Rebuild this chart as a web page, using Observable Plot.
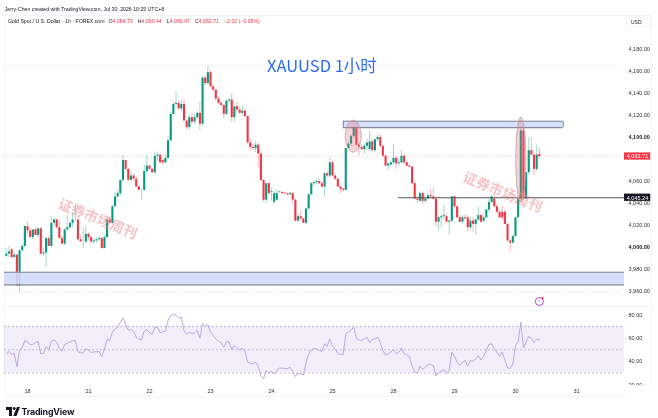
<!DOCTYPE html>
<html>
<head>
<meta charset="utf-8">
<script src="https://cdn.jsdelivr.net/npm/d3@7"></script>
<script src="https://cdn.jsdelivr.net/npm/@observablehq/plot@0.6"></script>
<style>
html,body{margin:0;padding:0;background:#fff;}
#wrap{position:relative;width:658px;height:418px;overflow:hidden;font-family:"Liberation Sans",sans-serif;color:#131722;filter:blur(0.3px);}
#wrap svg{position:absolute;left:0;}
.abs{position:absolute;white-space:nowrap;}
.r{color:#f23645;}
.v{display:inline-block;width:25.3px;}
</style>
</head>
<body>
<div id="wrap">
  <div class="abs" style="left:4px;top:14.5px;width:648px;height:382px;border:1px solid #f3f4f8;box-sizing:border-box;"></div>
  <div class="abs" style="left:4px;top:306px;width:648px;height:1px;background:#f0f1f6;"></div>
  <div class="abs" style="left:4.7px;top:6px;font-size:5.2px;">Jerry-Chen created with TradingView.com, Jul 30, 2026 10:25 UTC+8</div>
  <div class="abs" style="left:8px;top:18px;font-size:5.2px;"><span style="display:inline-block;width:99px;">Gold Spot / U.S. Dollar · 1h · FOREX.com</span> O<span class="r v">4,084.73</span>H<span class="r v">4,090.44</span>L<span class="r v">4,080.07</span>C<span class="r v">4,082.71</span><span class="r">−2.02 (−0.05%)</span></div>
  <div class="abs" style="left:626px;top:17px;width:25px;height:10px;border:1px solid #f3f4f8;box-sizing:border-box;border-radius:2px;font-size:5px;line-height:8px;padding-left:4px;">USD</div>
  <svg width="14" height="9" style="top:407px;left:6px;" viewBox="0 0 14 9"><path d="M0 0H6V9H3V3H0Z" fill="#131722"/><circle cx="8.2" cy="1.6" r="1.5" fill="#131722"/><path d="M11 0H14L10.5 9H7.2Z" fill="#131722"/></svg>
  <div class="abs" style="left:21.5px;top:406px;font-size:8.9px;font-weight:700;font-family:Inter,sans-serif;letter-spacing:-0.2px;">TradingView</div>
</div>
<script>
const opens = [
3992,3994,3998,3991,3993,3965,3997,4001,4019,4015,
4009,4016,4011,4017,3994,3995,4008,4001,4022,4025,
4018,4008,4003,4016,4018,4022,4025,4025,4007,4005,
4005,4012,4009,4005,4006,4007,4008,3999,4009,4025,
4022,4037,4046,4049,4061,4079,4071,4061,4065,4062,
4055,4052,4052,4069,4074,4071,4068,4083,4084,4079,
4077,4081,4097,4121,4130,4131,4126,4130,4115,4109,
4118,4114,4118,4122,4112,4154,4149,4159,4146,4143,
4135,4131,4129,4121,4133,4134,4118,4128,4125,4122,
4124,4119,4095,4091,4090,4093,4085,4061,4043,4058,
4050,4041,4043,4050,4050,4049.5,4049,4048,4049,4043,
4024,4028,4026,4022,4035,4048,4058,4059,4060,4058,
4055,4067,4065,4077,4065,4062,4055,4053,4052,4090,
4094,4101,4109,4093,4091,4089,4092,4089,4096,4088,
4098,4100,4092,4083,4074,4075,4077,4081,4076,4077,
4083,4077,4074,4073,4058,4044,4042,4049,4042,4044,
4047,4046,4044,4023,4027,4028,4028,4023,4024,4046,
4037,4027,4023,4027,4027,4018,4024,4021,4025,4029,
4024,4027,4034,4041,4044,4037,4032,4032,4032,4021,
4006,4004,4010,4027,4044,4106,4044,4068,4088,4084,
4071,4084.73];
const closes = [
3994,3996,3991,3993,3965,3997,4001,4019,4015,4009,
4016,4011,4017,3994,3995,4008,4001,4022,4025,4018,
4008,4003,4016,4018,4022,4025,4025,4007,4005,4005,
4012,4009,4005,4006,4007,4008,3999,4009,4025,4022,
4037,4046,4049,4061,4079,4071,4061,4065,4062,4055,
4052,4052,4069,4074,4071,4068,4083,4084,4077,4077,
4081,4097,4121,4130,4131,4126,4130,4115,4109,4118,
4114,4118,4122,4112,4154,4149,4159,4146,4143,4135,
4131,4129,4121,4133,4134,4118,4128,4125,4122,4124,
4119,4095,4091,4090,4093,4085,4061,4043,4058,4049,
4050.5,4049,4049,4050.5,4049,4049,4048,4049,4043,4024,
4028,4026,4022,4035,4048,4058,4059,4060,4058,4055,
4067,4065,4077,4065,4062,4055,4053,4052,4090,4094,
4101,4109,4093,4091,4089,4092,4095,4096,4088,4098,
4100,4092,4083,4074,4076,4077,4081,4076,4077,4083,
4077,4074,4073,4058,4044,4043,4049,4042,4044,4047,
4046,4044,4023,4027,4028,4029,4023,4024,4046,4037,
4027,4023,4027,4026,4018,4024,4021,4025,4029,4023,
4027,4034,4041,4046,4037,4032,4027,4027,4021,4006,
4004,4010,4027,4044,4106,4044,4068,4088,4084,4071,
4084,4082.71];
const highs = [
3999,4001,3999,3995,3994,3998,4003,4020,4023,4017,
4016,4018,4017,4018,3999,4009,4011,4028,4027,4026,
4025,4010,4017,4029,4023,4032,4040,4026,4011,4018,
4019,4013,4011,4008,4009,4010,4009,4011,4026,4027,
4038,4050,4052,4062,4084,4079,4072,4069,4067,4064,
4056,4053,4075,4084,4075,4072,4087,4086,4085,4081,
4085,4101,4123,4132,4142,4133,4134,4135,4116,4120,
4122,4121,4124,4132,4155,4156,4165,4161,4148,4144,
4137,4133,4130,4134,4135,4140,4128,4132,4128,4129,
4126,4120,4099,4094,4096,4095,4086,4062,4058,4059,
4054,4051,4052,4051,4051,4050,4049,4050,4050,4044,
4031,4033,4027,4036,4049,4059,4060,4062,4062,4060,
4068,4069,4081,4079,4066,4063,4056,4054,4090,4096,
4102,4113,4114,4095,4093,4094,4098,4106,4098,4098,
4102,4103,4093,4084,4077,4079,4093,4083,4080,4088,
4085,4078,4075,4074,4059,4047,4050,4051,4046,4048,
4053,4054,4045,4029,4030,4038,4030,4025,4046,4047,
4038,4029,4029,4030,4029,4027,4027,4026,4037,4031,
4030,4035,4044,4048,4047,4039,4034,4037,4034,4022,
4007,4011,4028,4045,4110,4110,4068,4100,4100,4086,
4093,4090.44];
const lows = [
3991,3991,3990,3990,3965,3959,3996,4000,4012,4009,
4007,4011,4009,3993,3992,3982,4001,4000,4019,4017,
4008,4003,4002,4015,4016,4018,4023,4006,4005,3999,
4003,4006,4003,4003,4004,4005,3999,3999,4008,4022,
4021,4037,4045,4047,4059,4069,4060,4060,4062,4055,
4051,4043,4051,4067,4070,4067,4066,4078,4076,4075,
4076,4080,4096,4120,4128,4125,4123,4115,4107,4107,
4112,4112,4116,4106,4110,4147,4148,4146,4142,4133,
4130,4128,4117,4120,4131,4114,4114,4123,4121,4119,
4118,4094,4088,4088,4086,4073,4060,4041,4040,4048,
4042,4039,4042,4049,4048,4048,4047,4047,4040,4023,
4023,4025,4022,4021,4034,4046,4055,4057,4057,4054,
4046,4063,4063,4064,4061,4054,4049,4050,4051,4089,
4092,4099,4092,4083,4088,4085,4088,4087,4087,4086,
4096,4090,4082,4073,4070,4073,4075,4071,4073,4076,
4075,4073,4072,4057,4044,4040,4041,4039,4041,4043,
4045,4043,4019,4015,4018,4025,4022,4011,4023,4036,
4026,4022,4021,4025,4014,4016,4014,4011,4023,4022,
4022,4026,4032,4040,4036,4032,4026,4025,4021,4005,
3996,4003,4009,4026,4042,4043,4043,4066,4083,4065,
4069,4080.07];
const rsiValues = [
46.6,48.6,45.7,47.1,35.7,50,51.7,58,56.6,54.3,
54.6,56,57.1,46.6,47.1,52.9,50,57.4,58.3,56.6,
51.4,48.9,54.6,55.7,56.6,57.7,58,48.6,47.4,47.4,
50.9,49.7,47.4,48.3,48.3,48.6,44.3,50.9,58.9,58,
65.1,68,69.4,73.7,77.1,72.3,66.6,67.4,65.7,60.9,
59.1,58.6,66,67.4,64.6,63.4,69.4,69.4,64.6,65.4,
66,75.1,79.4,80.3,79.7,77.1,78,66.6,63.1,65.4,
63.7,64.6,66.6,60,72.3,70,71.7,65.1,62.3,59.4,
57.4,56,52.3,56.9,56.9,50,53.7,51.7,50,51.4,
48.6,39.4,38.6,38,39.4,35.7,28,25.1,32.3,30,
31.7,29.4,32.3,34.3,34.3,34,33.7,35.1,31.4,27.1,
30,29.4,28.3,38.6,46.6,50,50.9,50.9,49.4,48.6,
55.1,53.1,59.4,52.9,50.6,46.6,46,45.7,63.7,65.1,
67.1,69.4,60,58.3,58,59.4,60.6,56.3,58.9,59.4,
60.9,56,49.4,45.4,46.6,48,50.3,46.6,48,51.7,
46.6,45.7,44.3,36.6,30.9,30,36,33.1,35.1,37.7,
37.1,36.6,27.7,30,31.7,32.9,30,32.3,48,44.3,
39.4,36.6,39.4,40.9,36,40.9,40,42.3,44.9,41.4,
44.3,49.4,54.6,55.1,50.9,48,44.3,48,41.4,34.6,
34,38,53.7,56.6,73.7,51.7,56.6,61.4,60,56,
58.9,58.6];

const dayTicks = [8,31,54,77,100,123,146,169,192,215];
const dayLabels = ["18","21","22","23","24","25","28","29","30","31"];
const priceTicks = [3960,3980,4020,4040,4060,4120,4140,4160,4180];
const boldPriceTicks = [4000,4100];
const rsiTicks = [80,60,40,20];
const rsiLevels = [70,50,30];

const upColor = "#089981", downColor = "#f23645";
const xDomain = [-2.187, 233.86];
const left = -0.68, right = 233.1;

const bars = opens.map((o,i)=>({i,o,h:highs[i],l:lows[i],c:closes[i],up:closes[i]>=o}));
const rsi = rsiValues.map((v,i)=>({i,v}));

const zones = [{x1:left,x2:right,p1:3977.5,p2:3966},{x1:127.1,x2:210,p1:4114.8,p2:4109}];
const rangeLevels = [{p:4165,x1:left,x2:232},{p:3959.5,x1:left,x2:232}];
const lastLevels = [{p:4082.71,x1:left,x2:232}];
const ellipseShape = (ci,di,cp,dp)=>d3.range(0,41).map(k=>({x:ci+di*Math.cos(k/40*2*Math.PI),y:cp+dp*Math.sin(k/40*2*Math.PI)}));
const ellipse1 = ellipseShape(130.8,3,4101.2,14.5);
const ellipse2 = ellipseShape(194,1.9,4079.8,38.6);
const tags = [{p:4082.71,fill:"#f23645"},{p:4045.24,fill:"#131722"}];
const f2 = d3.format(",.2f");
const fontSize = "5.5px";
const fam = '"Liberation Sans",sans-serif';
const cjk = '"Noto Sans CJK SC",sans-serif';

const pricePlot = Plot.plot({
  width:658,height:306,marginLeft:0,marginRight:32,marginTop:0,marginBottom:0,
  style:{background:"transparent",fontSize,fontFamily:fam,color:"#131722",overflow:"visible"},
  x:{domain:xDomain,axis:null},
  y:{domain:[3946.36,4224.55]},
  marks:[
    Plot.ruleY(rangeLevels,{y:"p",x1:"x1",x2:"x2",stroke:"#d6d8de",strokeDasharray:"1,2",strokeWidth:1}),
    Plot.ruleY(lastLevels,{y:"p",x1:"x1",x2:"x2",stroke:"#fbc6ca",strokeDasharray:"1,2",strokeWidth:1}),
    Plot.ruleX(bars,{x:"i",y1:"l",y2:"h",stroke:d=>d.up?upColor:downColor,strokeOpacity:0.38,strokeWidth:1}),
    Plot.ruleX(bars,{x:"i",y1:"o",y2:"c",stroke:d=>d.up?upColor:downColor,strokeWidth:2.1}),
    Plot.rect(zones,{x1:"x1",x2:"x2",y1:"p1",y2:"p2",fill:"#d1dcff",fillOpacity:0.9}),
    Plot.ruleY(zones,{y:"p1",x1:"x1",x2:"x2",stroke:"#85888f",strokeWidth:1.1}),
    Plot.ruleY(zones,{y:"p2",x1:"x1",x2:"x2",stroke:"#85888f",strokeWidth:1.1}),
    Plot.ruleX(zones.slice(1),{x:"x1",y1:"p1",y2:"p2",stroke:"#85888f",strokeWidth:1}),
    Plot.ruleX(zones.slice(1),{x:"x2",y1:"p1",y2:"p2",stroke:"#85888f",strokeWidth:1}),
    Plot.ruleY([{p:4045.24,x1:147.9,x2:233.1}],{y:"p",x1:"x1",x2:"x2",stroke:"#555",strokeWidth:1.1}),
    Plot.line(ellipse1,{x:"x",y:"y",stroke:"#b9a3a6",fill:"#e06b78",fillOpacity:0.3,strokeWidth:0.8}),
    Plot.line(ellipse2,{x:"x",y:"y",stroke:"#b9a3a6",fill:"#e06b78",fillOpacity:0.3,strokeWidth:0.8}),
    Plot.text([{x:119,y:4164.5,t:"XAUUSD 1小时"}],{x:"x",y:"y",text:"t",fill:"#2f6bf2",fontSize:16.5,fontFamily:cjk}),
    Plot.text([{x:34.4,y:4025.5,t:"证券市场周刊"},{x:187.1,y:4050,t:"证券市场周刊"}],{x:"x",y:"y",text:"t",rotate:22,fill:"#ee8a8f",fillOpacity:0.52,fontSize:14,fontWeight:700,fontFamily:cjk}),
    Plot.dot([{x:201,y:3950.9}],{x:"x",y:"y",r:4,stroke:"#ab47bc",strokeWidth:1,fill:"white"}),
    Plot.text([{x:201,y:3950.9,t:"⚡"}],{x:"x",y:"y",text:"t",fill:"#ab47bc",fontSize:5,fontFamily:'"DejaVu Sans"'}),
    Plot.dot([{x:202.2,y:3953.9}],{x:"x",y:"y",r:1.1,fill:"#f23645"}),
    Plot.axisY({anchor:"right",ticks:priceTicks,tickSize:0,tickPadding:2,tickFormat:f2,label:null,fill:"#333"}),
    Plot.axisY({anchor:"right",ticks:boldPriceTicks,tickSize:0,tickPadding:2,tickFormat:f2,label:null,fontWeight:700,fill:"#131722"}),
    Plot.rect(tags,{x1:233.1,x2:243,y1:d=>d.p+3.3,y2:d=>d.p-3.3,fill:"fill"}),
    Plot.text(tags,{x:238,y:"p",text:d=>f2(d.p),fill:"white"})
  ]
});
pricePlot.style.top="0px";

const rsiPlot = Plot.plot({
  width:658,height:112,marginLeft:0,marginRight:32,marginTop:0,marginBottom:29,
  style:{background:"transparent",fontSize,fontFamily:fam,color:"#131722",overflow:"visible"},
  x:{domain:xDomain},
  y:{domain:[16,87.1]},
  marks:[
    Plot.rect([{x1:left,x2:right,p1:30,p2:70}],{x1:"x1",x2:"x2",y1:"p1",y2:"p2",fill:"#7e57c2",fillOpacity:0.1}),
    Plot.ruleY(rsiLevels,{y:d=>d,x1:()=>left,x2:()=>right,stroke:"#b4b0c0",strokeDasharray:"2,2",strokeWidth:0.8}),
    Plot.line(rsi,{x:"i",y:"v",stroke:"#b49fe2",strokeWidth:0.9}),
    Plot.axisY({anchor:"right",ticks:rsiTicks,tickSize:0,tickPadding:2,tickFormat:f2,label:null,fill:"#333"}),
    Plot.rect([{x1:233.5,x2:245,p1:8,p2:19.3}],{x1:"x1",x2:"x2",y1:"p1",y2:"p2",fill:"white"}),
    Plot.axisX({anchor:"bottom",ticks:dayTicks,tickSize:0,tickPadding:0,tickFormat:d=>dayLabels[dayTicks.indexOf(d)],label:null,fill:"#333"})
  ]
});
rsiPlot.style.top="306px";

const wrap = document.getElementById("wrap");
wrap.append(pricePlot,rsiPlot);
</script>
</body>
</html>
